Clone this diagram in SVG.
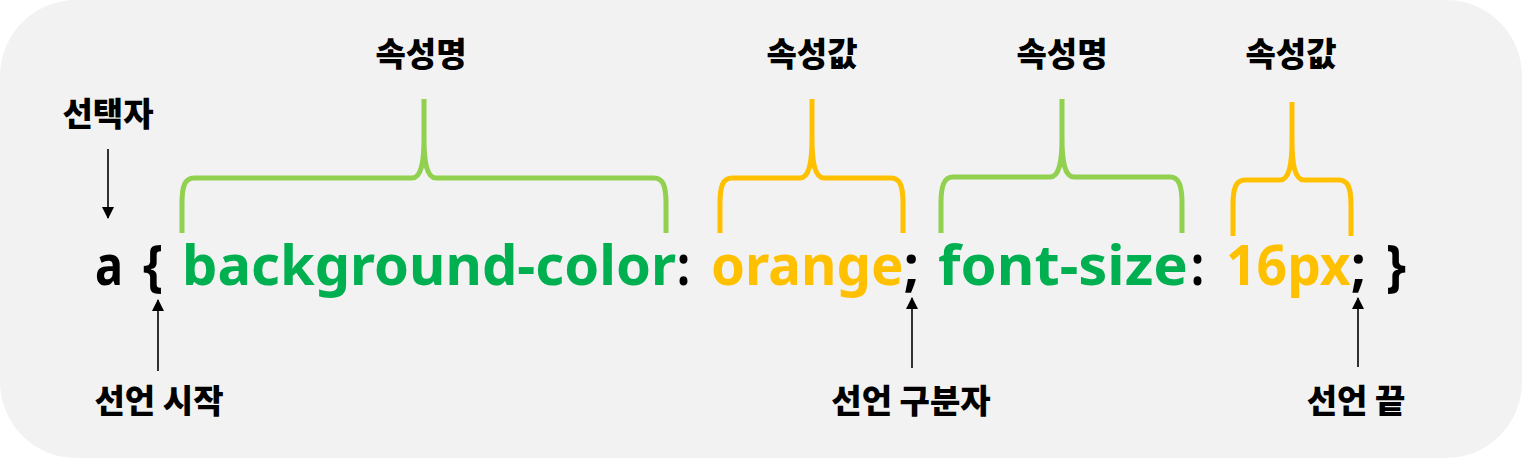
<svg xmlns="http://www.w3.org/2000/svg" width="1522" height="458" viewBox="0 0 1522 458">
<defs>
<style>
.lbl{font-family:"Noto Sans CJK KR","Noto Sans",sans-serif;font-weight:900;font-size:33px;fill:#000;text-anchor:middle}
.code{font-family:"Noto Sans","Open Sans",sans-serif;font-weight:700;font-size:56px}
.blk{fill:#000}
.grn{fill:#00b050}
.org{fill:#ffc000}
.br{fill:none;stroke-width:5;stroke-linejoin:round}
.bg{stroke:#92d050}
.bo{stroke:#ffc000}
.arr{stroke:#000;stroke-width:1.6;fill:none}
</style>
<marker id="ah" viewBox="0 0 12 12" refX="11" refY="6" markerWidth="12" markerHeight="12" markerUnits="userSpaceOnUse" orient="auto">
<path d="M0,0 L12,6 L0,12 Z" fill="#000"/>
</marker>
</defs>
<rect x="0" y="0" width="1522" height="458" rx="76" ry="76" fill="#f2f2f2"/>

<g id="code">
<text class="code blk" x="95" y="285" textLength="28" lengthAdjust="spacingAndGlyphs">a</text>
<text class="code blk" x="143" y="285" textLength="20" lengthAdjust="spacingAndGlyphs">{</text>
<text class="code grn" x="182" y="285" textLength="494" lengthAdjust="spacingAndGlyphs">background-color</text>
<text class="code blk" x="677" y="285" textLength="13" lengthAdjust="spacingAndGlyphs">:</text>
<text class="code" x="711" y="285" textLength="208" lengthAdjust="spacingAndGlyphs"><tspan class="org">orange</tspan><tspan class="blk">;</tspan></text>
<text class="code grn" x="938" y="285" textLength="250" lengthAdjust="spacingAndGlyphs">font-size</text>
<text class="code blk" x="1191" y="285" textLength="13" lengthAdjust="spacingAndGlyphs">:</text>
<text class="code" x="1226" y="285" textLength="140" lengthAdjust="spacingAndGlyphs"><tspan class="org">16px</tspan><tspan class="blk">;</tspan></text>
<text class="code blk" x="1386" y="285" textLength="20" lengthAdjust="spacingAndGlyphs">}</text>
</g>

<g id="brace-prop1">
<path class="br bg" d="M182,233 V203 C182,186 185,178 194,178 H412 C421,178 424,163 424,138 V99 M424,138 C424,163 427,178 436,178 H654 C663,178 666,186 666,203 V233"/>
<text class="lbl" x="421" y="66">속성명</text>
</g>
<g id="brace-val1">
<path class="br bo" d="M720,233 V203 C720,186 723,178 732,178 H800 C809,178 812,163 812,138 V99 M812,138 C812,163 815,178 824,178 H891 C900,178 903,186 903,203 V233"/>
<text class="lbl" x="812" y="66">속성값</text>
</g>
<g id="brace-prop2">
<path class="br bg" d="M941,233 V203 C941,186 944,177 953,177 H1050 C1059,177 1062,162 1062,138 V99 M1062,138 C1062,162 1065,177 1074,177 H1170 C1179,177 1182,186 1182,203 V233"/>
<text class="lbl" x="1062" y="66">속성명</text>
</g>
<g id="brace-val2">
<path class="br bo" d="M1233,236 V205 C1233,188 1236,180 1245,180 H1280 C1289,180 1292,165 1292,140 V102 M1292,140 C1292,165 1295,180 1304,180 H1339 C1348,180 1351,188 1351,205 V236"/>
<text class="lbl" x="1291" y="66">속성값</text>
</g>

<g id="selector">
<text class="lbl" x="108" y="126">선택자</text>
</g>
<g id="decl-start">
<text class="lbl" x="159" y="413">선언 시작</text>
</g>
<g id="decl-sep">
<text class="lbl" x="911" y="413">선언 구분자</text>
</g>
<g id="decl-end">
<text class="lbl" x="1356" y="413">선언 끝</text>
</g>

<g id="connectors">
<line class="arr" x1="108" y1="149" x2="108" y2="218" marker-end="url(#ah)"/>
<line class="arr" x1="158" y1="371" x2="158" y2="300" marker-end="url(#ah)"/>
<line class="arr" x1="912" y1="368" x2="912" y2="298" marker-end="url(#ah)"/>
<line class="arr" x1="1358" y1="367" x2="1358" y2="298" marker-end="url(#ah)"/>
</g>
</svg>
